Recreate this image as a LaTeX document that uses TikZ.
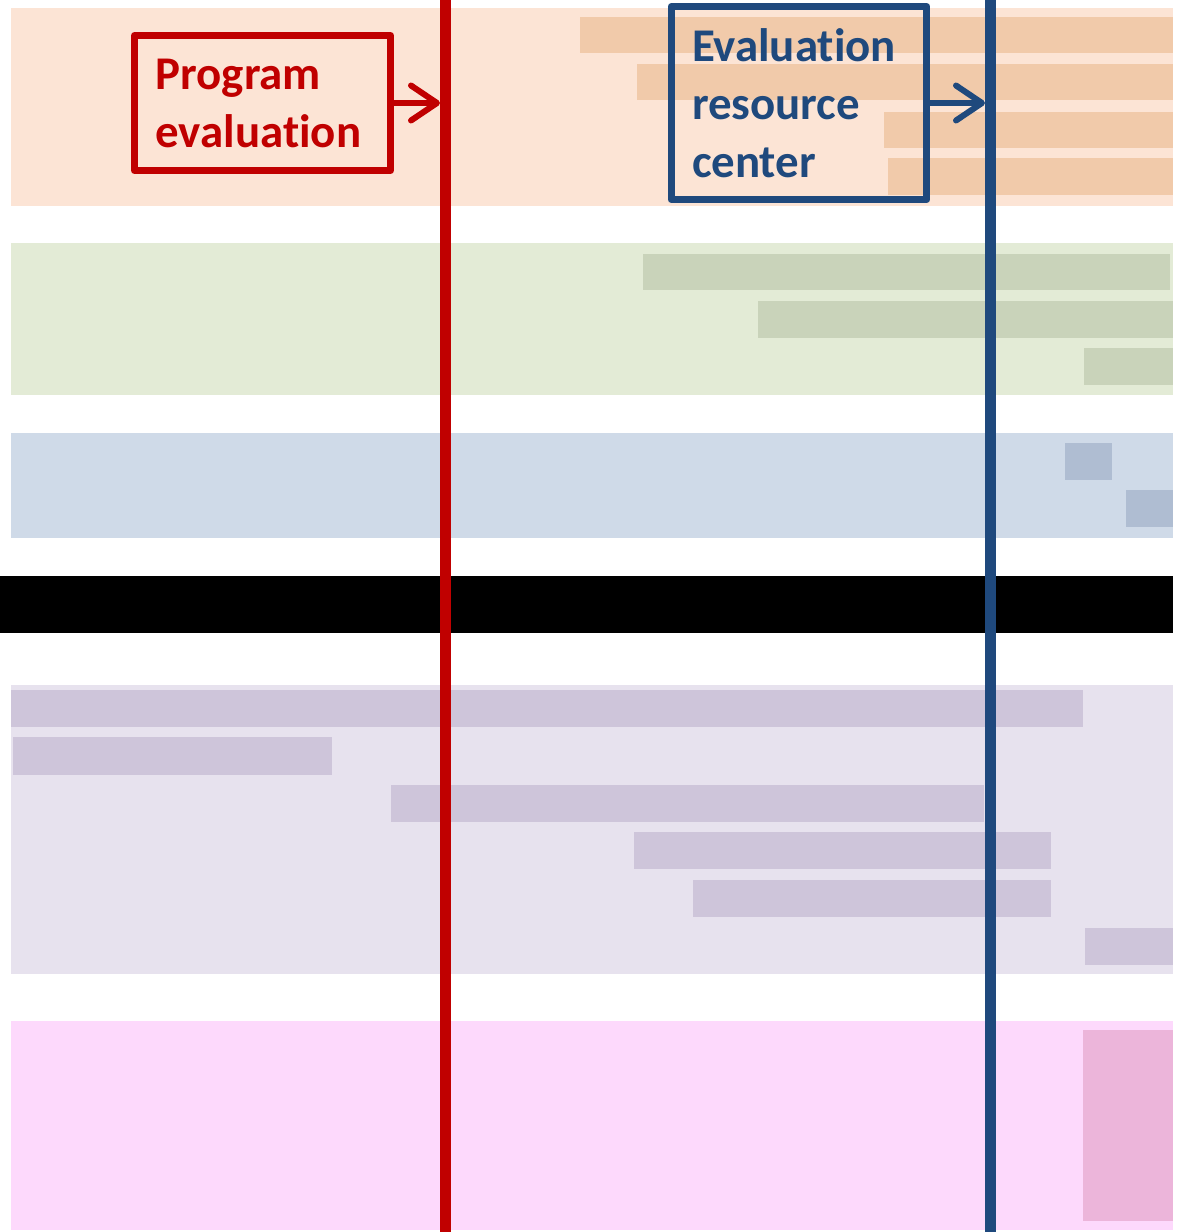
\documentclass[tikz,border=0pt]{standalone}
\usepackage{fontspec}
\setsansfont{Carlito}[Ligatures=NoCommon]
\usetikzlibrary{arrows.meta,positioning}
\definecolor{evred}{HTML}{C00000}
\definecolor{evblue}{HTML}{1F497D}
\definecolor{orband}{HTML}{FCE4D5}
\definecolor{orbar}{HTML}{F1CAAA}
\definecolor{grband}{HTML}{E3EBD6}
\definecolor{grbar}{HTML}{C9D3BA}
\definecolor{blband}{HTML}{CFDAE8}
\definecolor{blbar}{HTML}{AFBDD2}
\definecolor{puband}{HTML}{E7E2EE}
\definecolor{pubar}{HTML}{CEC5DA}
\definecolor{piband}{HTML}{FDD9FC}
\definecolor{pibar}{HTML}{ECB5DA}
\tikzset{
  labelbox/.style={rectangle, draw=#1, line width=0.14cm, line join=round,
                   text=#1, text width=4.28cm, inner xsep=0.42cm, align=left,
                   font=\fontsize{26.7}{33}\selectfont\sffamily\bfseries},
  marker/.style={draw=#1, line width=0.22cm},
  arr/.style={-{Straight Barb[length=0.52cm, width=0.7cm, round]},
              line width=0.12cm, draw=#1, shorten >=0.1cm},
}

\begin{document}
\begin{tikzpicture}[x=0.02cm, y=-0.02cm]
  \useasboundingbox (0,0) rectangle (1182,1232);

  % phase bands and their activity bars
  \fill[orband] (11,8) rectangle (1173,206);
  \foreach \xa/\ya/\xb/\yb in {580/17/1173/53, 637/64/1173/100, 884/112/1173/148, 888/158/1173/195}
    \fill[orbar] (\xa,\ya) rectangle (\xb,\yb);
  \fill[grband] (11,243) rectangle (1173,395);
  \foreach \xa/\ya/\xb/\yb in {643/254/1170/290, 758/301/1173/338, 1084/348/1173/385}
    \fill[grbar] (\xa,\ya) rectangle (\xb,\yb);
  \fill[blband] (11,433) rectangle (1173,538);
  \foreach \xa/\ya/\xb/\yb in {1065/443/1112/480, 1126/490/1173/527}
    \fill[blbar] (\xa,\ya) rectangle (\xb,\yb);
  \fill[black] (0,576) rectangle (1173,633);
  \fill[puband] (11,685) rectangle (1173,974);
  \foreach \xa/\ya/\xb/\yb in {11/690/1083/727, 13/737/332/775, 391/785/984/822,
                               634/832/1051/869, 693/880/1051/917, 1085/928/1173/965}
    \fill[pubar] (\xa,\ya) rectangle (\xb,\yb);
  \fill[piband] (11,1021) rectangle (1173,1230);
  \fill[pibar] (1083,1030) rectangle (1173,1221);

  % milestones
  \coordinate (redtop) at (445,0);
  \coordinate (redbot) at (445,1232);
  \coordinate (bluetop) at (990,0);
  \coordinate (bluebot) at (990,1232);
  \draw[marker=evred] (redtop) -- (redbot);
  \draw[marker=evblue] (bluetop) -- (bluebot);

  \node[labelbox=evred, minimum height=2.7cm] (prog) at (262.5,103) {Program\\evaluation};
  \node[labelbox=evblue, minimum height=3.86cm] (erc) at (799,103) {Evaluation\\resource\\center};
  \draw[arr=evred] (prog.east) -- (prog.east -| redtop);
  \draw[arr=evblue] (erc.east) -- (erc.east -| bluetop);
\end{tikzpicture}
\end{document}
